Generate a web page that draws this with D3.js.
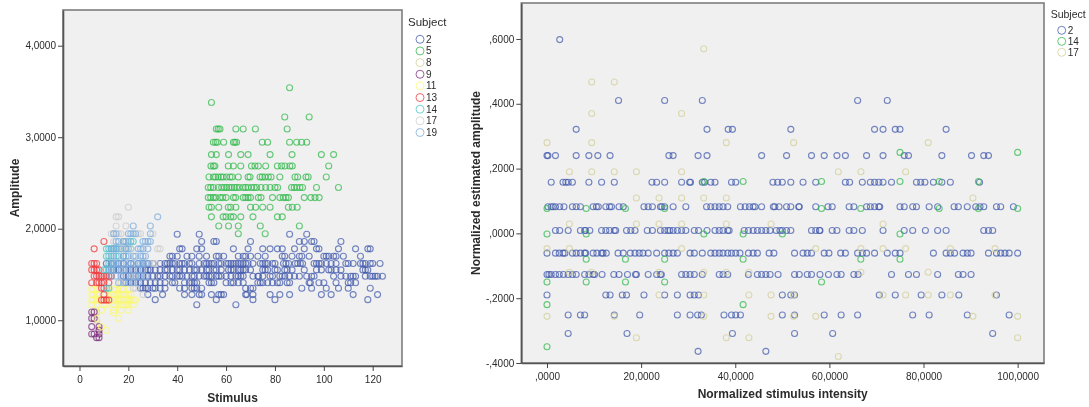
<!DOCTYPE html>
<html>
<head>
<meta charset="utf-8">
<script src="https://cdn.jsdelivr.net/npm/d3@7/dist/d3.min.js"></script>
<style>
body { margin: 0; background: #fff; }
svg { filter: blur(0.35px); }
text { font-family: "Liberation Sans", Arial, sans-serif; fill: #2b2b2b; }
</style>
</head>
<body>
<div id="chart"></div>
<script>
// left panel, each row is [amplitude, [stimulus values]]
const s2Rows = [
  [1.94, [40, 49, 86, 93]],
  [1.86, [50, 55, 56, 70, 90, 92, 95, 96, 107]],
  [1.78, [41, 42, 48, 50, 63, 69, 75, 78, 81, 83, 88, 92, 97, 98, 106, 113, 118, 119]],
  [1.70, [37, 38, 40, 44, 46, 49, 52, 56, 57, 59, 65, 67, 68, 70, 73, 76, 83, 84, 87, 90, 91, 94, 100, 101, 102, 104, 105, 108, 115]],
  [1.62, [11, 13, 16, 18, 21, 24, 26, 28, 30, 33, 35, 36, 37, 38, 39, 41, 42, 43, 45, 46, 49, 51, 52, 53, 54, 55, 57, 58, 60, 61, 62, 63, 64, 65, 66, 67, 68, 69, 71, 74, 75, 76, 77, 79, 80, 83.5, 84.5, 85.6, 88.3, 89.3, 90.4, 91.3, 96, 97, 98, 99, 101, 103, 105, 109, 110, 112, 115, 116, 117, 119, 120, 123]],
  [1.55, [14, 16, 19, 21, 23, 25, 27, 28, 29, 31, 33, 35, 36, 38, 40, 41, 43, 45, 47, 48, 50, 52, 53, 55, 56, 58, 61, 62, 63, 65, 66, 67, 68, 70, 75, 76, 77, 80, 81, 84, 85, 87, 92, 97, 99, 102, 103, 105, 107, 116, 117, 118]],
  [1.48, [18, 20, 22, 24, 26, 28, 30, 32, 33, 35, 37, 38, 40, 41, 42, 44, 46, 47, 49, 51, 52, 53, 54, 56, 57, 58, 60, 62, 64, 65, 66, 67, 71, 73, 73.3, 75, 78, 79, 82, 83, 84, 86, 88, 90, 93, 95, 96, 104, 107, 109, 111, 112, 113, 117, 119, 120, 121, 122, 124]],
  [1.41, [19, 21, 23, 25, 27, 29, 31, 33, 35, 38, 39, 43, 45, 46, 47, 48, 53, 54, 55, 60, 62, 63, 65, 67, 73, 74, 75, 77, 79, 81, 82, 85, 86, 94, 94.5, 98, 100, 105, 110, 111, 113]],
  [1.35, [25, 26, 27, 28, 30, 31, 33, 35, 41, 43, 46, 47, 48, 50, 68, 70, 71, 91, 95, 101, 106, 110, 119]],
  [1.28, [28, 34, 43, 46, 49, 50, 54, 57, 58, 59, 68, 68.5, 71, 78, 82, 86, 99, 103, 112, 122]],
  [1.225, [31, 56, 71, 80, 118]],
  [1.17, [48, 64]]
];
const s5Rows = [
  [3.54, [86]],
  [3.38, [54]],
  [3.22, [84, 94]],
  [3.09, [56, 56.8, 57.5, 64, 67, 72, 85]],
  [2.945, [54.8, 55.7, 56.4, 59, 63, 63.6, 64.3, 74.8, 77, 86, 88.9, 90.9, 93]],
  [2.81, [54, 56, 61, 66, 69, 78, 87, 99, 104]],
  [2.686, [53.8, 54.8, 55.4, 60.9, 63, 66, 70.4, 71.8, 73.2, 76.2, 81, 82.7, 84.1, 86.1, 87.1, 102]],
  [2.566, [53, 54.8, 55.7, 56.8, 57.9, 58.8, 60.2, 61.6, 62.5, 65, 69, 69.8, 73.9, 74.8, 75.9, 77.3, 78.4, 82, 88.2, 89.3, 92.7, 93.6, 101]],
  [2.45, [52.7, 53.7, 54.8, 56.8, 58.2, 59.3, 60.2, 61.2, 62.3, 63.4, 64.3, 65.4, 67, 68, 69, 70.4, 71.5, 72.5, 74.3, 76.2, 78, 80, 81.1, 86.8, 87.9, 88.9, 90.2, 91.3, 97, 106]],
  [2.34, [52.7, 53.7, 54.8, 55.7, 57.5, 58.6, 60, 63, 63.9, 67, 68, 69, 70, 73.2, 74.3, 79, 82, 83.4, 84.5, 85.5, 92, 94.7, 96.4, 98.1]],
  [2.235, [53, 54, 57, 60.9, 61.9, 64, 70, 72.1, 75, 78, 85.5, 87.1, 89.1]],
  [2.13, [54, 58.8, 60, 61.9, 63, 66, 71, 81, 83]],
  [2.03, [57, 61, 65, 74, 90]],
  [1.945, [65, 76]]
];
const s8Rows = [
  [1.48, [13]],
  [1.41, [17]],
  [1.09, [6, 7]],
  [1.00, [7]],
  [0.90, [8]]
];
const s9Rows = [
  [1.09, [5, 6]],
  [1.02, [5, 6]],
  [0.93, [5, 8]],
  [0.89, [8]],
  [0.85, [5, 6, 8]],
  [0.81, [7, 8]]
];
const s11Rows = [
  [1.34, [5, 6, 7, 12, 14, 15, 16, 17, 18, 20]],
  [1.28, [5, 6, 7, 8, 12, 13, 14, 15, 16, 17, 18, 19, 20, 21]],
  [1.22, [5, 6, 7, 8, 9, 13, 14, 15, 16, 17, 18, 19, 20, 21, 22, 23]],
  [1.17, [5, 7, 10, 11, 14, 15, 17, 18, 19, 20, 22]],
  [1.11, [9, 14, 17, 20]],
  [1.08, [14]],
  [1.02, [7, 16]],
  [0.93, [9]],
  [0.89, [11]]
];
const s13Rows = [
  [1.86, [10]],
  [1.78, [6]],
  [1.62, [5, 6, 7]],
  [1.55, [5, 6, 7, 8]],
  [1.48, [6, 7, 8, 9, 10, 11, 12, 13]],
  [1.41, [5, 7, 8, 9, 10, 12]],
  [1.35, [9, 10]],
  [1.28, [10]],
  [1.22, [9, 10, 11, 12]]
];
const s14Rows = [
  [1.86, [18, 21, 22]],
  [1.78, [11, 12, 13, 14, 15, 16, 19, 21]],
  [1.70, [11, 12, 14, 16, 18]],
  [1.62, [12, 14]],
  [1.55, [10, 11, 12, 13]],
  [1.35, [11, 12]]
];
const s17Rows = [
  [2.235, [20]],
  [2.13, [15, 16]],
  [2.03, [15, 19]],
  [1.945, [13, 14, 16, 17, 24, 25, 30]],
  [1.86, [14, 18]],
  [1.78, [17, 18, 21, 32, 33]],
  [1.62, [30, 31]],
  [1.48, [22]],
  [1.35, [22, 23]],
  [1.28, [26]]
];
const s19Rows = [
  [2.13, [32]],
  [2.03, [22, 29]],
  [1.945, [14, 15, 20, 21, 22, 23, 29]],
  [1.86, [15, 16, 18, 19, 20, 26, 27, 28, 29]],
  [1.78, [13, 14, 15, 17, 19, 20, 24, 25, 26, 28]],
  [1.70, [13, 15, 18, 19, 20, 22, 23, 25, 26, 27]],
  [1.62, [13, 14, 15, 16, 17, 18, 20, 21, 22, 24, 25, 26, 27, 28]],
  [1.55, [12, 13, 15, 17, 18, 20, 22, 24, 26]],
  [1.48, [13, 15, 17, 19, 21, 23, 25, 27]],
  [1.41, [16, 18, 20, 22, 24]]
];
const leftSubjects = ["2", "5", "8", "9", "11", "13", "14", "17", "19"];
const leftRows = [s2Rows, s5Rows, s8Rows, s9Rows, s11Rows, s13Rows, s14Rows, s17Rows, s19Rows];
const stimTicks = [0, 20, 40, 60, 80, 100, 120];
const ampTicks = [1, 2, 3, 4];
const ampLabels = ["1,0000", "2,0000", "3,0000", "4,0000"];

// right panel, each row is [normalized amplitude, [normalized stimulus values]]
const n2Rows = [
  [0.598, [2.7]],
  [0.41, [15.2, 25, 33, 66, 72.3]],
  [0.321, [6.2, 34, 38.5, 39.4, 51.8, 69.6, 71.4, 74, 75, 84.8]],
  [0.24, [0, 0.2, 1.8, 6.2, 8.9, 10.8, 13.4, 25.9, 26.8, 32.1, 34, 45.6, 50.9, 56.2, 58.9, 61.6, 63.4, 67.9, 71.4, 75.9, 76.8, 83.9, 90.2, 92.8, 93.8]],
  [0.158, [0.9, 3.4, 4, 4.5, 5.4, 8.9, 11.6, 14.3, 22.3, 23.3, 25, 28.6, 30.3, 30.5, 33, 33.5, 34.8, 35.7, 39.2, 40.1, 48, 49, 50, 51.8, 54.4, 57.1, 63.4, 64.3, 67, 68.7, 69.6, 70.5, 71.4, 73.2, 78.5, 79.4, 80.3, 82.1, 83.9, 85.7, 91.9]],
  [0.082, [0.2, 0.9, 1.3, 1.8, 2.7, 3.6, 5.4, 6.2, 7.1, 9.8, 10.5, 10.9, 12.5, 13.3, 13.7, 15.3, 16.2, 20.6, 21.5, 22.4, 24.1, 24.4, 25, 26.8, 29.5, 33.9, 34.8, 35.7, 36.6, 37.4, 38.4, 41.1, 42.1, 43, 43.8, 44.2, 45.6, 48.1, 48.4, 49.3, 50.9, 51.8, 53.5, 53.6, 57.1, 59.7, 60.6, 64.2, 65.2, 67.9, 68.7, 69.6, 70.5, 70.7, 75, 75.9, 77.7, 78.5, 81.2, 83, 86.5, 87.4, 89.3, 91.1, 92, 92.8, 95.5, 96.4, 99.1]],
  [0.009, [1.8, 2.7, 4.5, 7.1, 8, 8.2, 9.1, 11.6, 12.5, 13.3, 14.3, 14.6, 16.9, 17.8, 18.7, 21.3, 22.4, 24.1, 25, 25.7, 26.1, 26.8, 27.7, 28.6, 29.5, 31.3, 32.2, 34, 35.7, 36.6, 37.4, 38.4, 38.7, 41.9, 42.8, 43.8, 44.7, 45.6, 46.5, 47.4, 48.7, 49.5, 50, 50.9, 51.8, 56.2, 57.1, 57.9, 58, 60.6, 61.6, 64.2, 65.2, 67, 71.4, 75.9, 77.7, 80.4, 83, 84.8, 92.8, 93.8, 94.7]],
  [-0.061, [0, 1.8, 2.6, 3.4, 3.8, 5.4, 6.2, 7.1, 8, 8.2, 9.8, 10.6, 11.6, 11.9, 12.6, 15.1, 16.2, 17.7, 18.7, 19.6, 20.4, 21.5, 23.3, 25, 25.9, 26.8, 27.7, 30.4, 31.3, 33, 34.8, 35.7, 36.6, 37.4, 38.4, 39.2, 40.1, 41, 42.8, 43.8, 44.7, 47.2, 48.2, 52.6, 54.4, 55.3, 56.2, 58.9, 59.9, 62.4, 63.4, 66, 67, 67.9, 69.6, 72.3, 74, 75, 82.1, 84.8, 85.7, 86.6, 88.4, 89.3, 90.1, 93.8, 95.5, 96.4, 97.3, 98.2, 100]],
  [-0.127, [0, 0.4, 0.9, 1.8, 2.6, 3.5, 4.5, 5.4, 6.2, 8, 8.9, 9.8, 10.1, 11.7, 14.2, 15.3, 17.1, 18.8, 19, 21.5, 23.3, 24.1, 24.3, 28.6, 29.5, 30.4, 31.3, 33, 36.6, 37.4, 38.4, 42.8, 44.7, 45.6, 46.5, 47.4, 49.1, 52.6, 53.6, 55.3, 56.2, 58, 59.8, 61.6, 62.5, 65.2, 66.1, 73.2, 76.8, 78.5, 83, 87.4, 88.4, 90.1]],
  [-0.19, [0, 12.5, 13.4, 16, 16.9, 20.6, 25, 27.7, 30.4, 31.3, 32.2, 50, 51.8, 52.6, 70.6, 74, 79.5, 83.9, 87.5, 95.5]],
  [-0.252, [4.5, 7.1, 8, 14.3, 19.7, 27.7, 30.4, 32, 32.8, 37.6, 39.2, 40.1, 41.1, 50, 52.6, 58.9, 62.5, 66, 77.7, 81.2, 89.3, 98.2]],
  [-0.309, [4.5, 17, 39.4, 52.6, 60.7, 94.7]],
  [-0.364, [32.1, 46.5]]
];
const n14Rows = [
  [0.25, [75, 100]],
  [0.16, [33.33, 41.67, 58.33, 75, 83.33, 91.67]],
  [0.077, [0, 8.33, 16.67, 25, 58.33, 66.67, 83.33, 91.67, 100]],
  [-0.002, [0, 8.33, 33.33, 41.67, 50, 75]],
  [-0.08, [8.33, 16.67, 25, 41.67, 66.67, 75]],
  [-0.15, [0, 8.33, 16.67, 25, 58.33]],
  [-0.22, [0, 41.67]],
  [-0.35, [0]]
];
const n17Rows = [
  [0.57, [33.3]],
  [0.467, [9.5, 14.3]],
  [0.37, [9.5, 28.6]],
  [0.28, [0, 9.5, 38.1, 52.4, 81]],
  [0.19, [4.76, 9.5, 14.3, 19, 28.6, 61.9, 66.7, 76.2]],
  [0.109, [19, 23.8, 28.6, 33.3, 38.1, 90.5]],
  [0.029, [4.76, 19, 23.8, 28.6, 38.1, 47.6, 71.4]],
  [-0.047, [0, 4.76, 28.6, 57.1, 66.7, 71.4, 76.2, 85.7, 95.2]],
  [-0.12, [4.76, 9.5, 23.8, 33.3, 38.1, 42.9, 66.7, 81]],
  [-0.19, [23.8, 33.3, 42.9, 47.6, 52.4, 71.4, 76.2, 81, 85.7, 95.2]],
  [-0.256, [0, 14.3, 33.3, 47.6, 52.4, 57.1, 90.5, 100]],
  [-0.322, [19, 38.1, 42.9, 100]],
  [-0.38, [61.9]]
];
const rightSubjects = ["2", "14", "17"];
const rightRows = [n2Rows, n14Rows, n17Rows];
const normXTicks = [0, 20, 40, 60, 80, 100];
const normXLabels = [",0000", "20,0000", "40,0000", "60,0000", "80,0000", "100,0000"];
const normYTicks = [-0.4, -0.2, 0, 0.2, 0.4, 0.6];
const normYLabels = ["-,4000", "-,2000", ",0000", ",2000", ",4000", ",6000"];

const leftColors = ["#3e58ac", "#2eb848", "#d3ce97", "#7c287d", "#fbf873", "#ef3338", "#48c2c5", "#cccccc", "#7aaadc"];
const rightColors = ["#3e58ac", "#2eb848", "#d3ce97"];

const svg = d3.select("#chart").append("svg")
  .attr("width", 1089)
  .attr("height", 407);

function drawPanel(cfg) {
  const xscale = d3.scaleLinear().domain(cfg.xDomain).range([cfg.left, cfg.right]);
  const yscale = d3.scaleLinear().domain(cfg.yDomain).range([cfg.bottom, cfg.top]);

  svg.append("rect")
    .attr("x", cfg.left)
    .attr("y", cfg.top)
    .attr("width", cfg.right - cfg.left)
    .attr("height", cfg.bottom - cfg.top)
    .attr("fill", "#f0f0f0")
    .attr("stroke", "#7d7d7d")
    .attr("stroke-width", 1.6);

  cfg.rows.forEach((rows, i) => {
    const points = rows.flatMap(([y, xs]) => xs.map(x => ({ x, y })));
    svg.append("g").selectAll("circle")
      .data(points)
      .enter()
      .append("circle")
      .attr("cx", d => xscale(d.x))
      .attr("cy", d => yscale(d.y))
      .attr("r", 3)
      .attr("fill", "none")
      .attr("stroke", cfg.colors[i])
      .attr("stroke-opacity", 0.72)
      .attr("stroke-width", 1.1);
  });

  const xaxis = d3.axisBottom(xscale).tickValues(cfg.xTicks).tickSizeInner(5).tickSizeOuter(0).tickPadding(5);
  if (cfg.xLabels) xaxis.tickFormat((d, i) => cfg.xLabels[i]);
  const yaxis = d3.axisLeft(yscale).tickValues(cfg.yTicks).tickSizeInner(5).tickSizeOuter(0).tickPadding(2)
    .tickFormat((d, i) => cfg.yLabels[i]);

  const gx = svg.append("g").attr("transform", `translate(0,${cfg.bottom})`).call(xaxis);
  const gy = svg.append("g").attr("transform", `translate(${cfg.left},0)`).call(yaxis);
  [gx, gy].forEach(g => {
    g.select(".domain").attr("stroke", "#555").attr("stroke-width", 1.6);
    g.selectAll(".tick line").attr("stroke", "#444");
    g.selectAll(".tick text").style("font-size", "10px");
  });

  svg.append("text")
    .attr("x", (cfg.left + cfg.right) / 2 + cfg.xTitleShift)
    .attr("y", cfg.xTitleY)
    .attr("text-anchor", "middle")
    .style("font-size", "12px")
    .style("font-weight", "bold")
    .text(cfg.xTitle);

  svg.append("text")
    .attr("transform", `translate(${cfg.yTitleX},${cfg.yTitleMid}) rotate(-90)`)
    .attr("text-anchor", "middle")
    .style("font-size", "12px")
    .style("font-weight", "bold")
    .text(cfg.yTitle);

  drawLegend(cfg);
}

function drawLegend(cfg) {
  svg.append("text")
    .attr("x", cfg.legendX)
    .attr("y", cfg.legendTitleY)
    .style("font-size", cfg.legendTitleSize)
    .text("Subject");

  cfg.subjects.forEach((s, i) => {
    const y = cfg.legendTop + i * cfg.legendStep;
    svg.append("circle")
      .attr("cx", cfg.legendX + cfg.legendIndent)
      .attr("cy", y)
      .attr("r", 4)
      .attr("fill", "none")
      .attr("stroke", cfg.colors[i])
      .attr("stroke-opacity", 0.75);
    svg.append("text")
      .attr("x", cfg.legendX + cfg.legendIndent + 6)
      .attr("y", y + 3.5)
      .style("font-size", "10px")
      .text(s);
  });
}

drawPanel({
  left: 63, right: 402, top: 10, bottom: 366,
  xDomain: [-6.75, 132], yDomain: [0.5, 4.39],
  xTicks: stimTicks, yTicks: ampTicks, yLabels: ampLabels,
  rows: leftRows, colors: leftColors, subjects: leftSubjects,
  xTitle: "Stimulus", xTitleY: 402, xTitleShift: 0,
  yTitle: "Amplitude", yTitleX: 19, yTitleMid: 188,
  legendX: 408, legendTitleY: 26, legendTitleSize: "11.5px", legendIndent: 12, legendTop: 39.3, legendStep: 11.65
});

drawPanel({
  left: 521.3, right: 1044, top: 3, bottom: 363,
  xDomain: [-5.46, 105.6], yDomain: [-0.4, 0.711],
  xTicks: normXTicks, xLabels: normXLabels, yTicks: normYTicks, yLabels: normYLabels,
  rows: rightRows, colors: rightColors, subjects: rightSubjects,
  xTitle: "Normalized stimulus intensity", xTitleY: 398, xTitleShift: 0,
  yTitle: "Normalized estimated amplitude", yTitleX: 480, yTitleMid: 183,
  legendX: 1050.7, legendTitleY: 18, legendTitleSize: "10.5px", legendIndent: 11, legendTop: 30.3, legendStep: 11
});
</script>
</body>
</html>
